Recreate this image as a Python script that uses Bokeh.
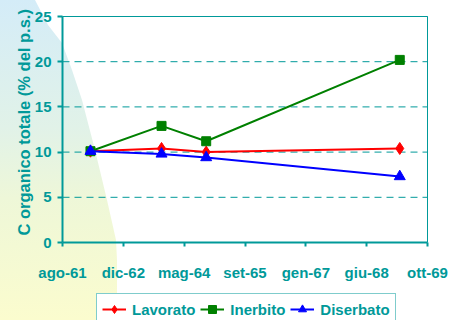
import math
import urllib.parse
import pandas as pd
from bokeh.plotting import figure
from bokeh.models import Range1d, FixedTicker, Legend, LegendItem, LinearAxis, Label
from bokeh.embed import file_html
from bokeh.resources import INLINE

# ---- data ----
dates = ["1962-03-25", "1963-10-30", "1964-10-31", "1969-03-10"]
lavorato = [10.1, 10.4, 10.0, 10.4]
inerbito = [10.1, 12.9, 11.2, 20.2]
diserbato = [10.1, 9.8, 9.4, 7.3]

tick_dates = ["1961-08-07", "1962-12-20", "1964-05-03", "1965-09-15",
              "1967-01-28", "1968-06-11", "1969-10-24"]
tick_labels = ["ago-61", "dic-62", "mag-64", "set-65", "gen-67", "giu-68", "ott-69"]
y_ticks = [0, 5, 10, 15, 20, 25]
y_title = "C organico totale (% del p.s.)"

EPOCH = pd.Timestamp("1899-12-30")
def serial(d):
    return (pd.Timestamp(d) - EPOCH).days

xs = [serial(d) for d in dates]
xt = [serial(d) for d in tick_dates]

TEAL = "#009999"
FONT = "Liberation Sans"
W, H = 450, 320
# plot-area placement on the canvas (pixels)
PL, PR, PT, PB = 62, 427, 16, 242
sx = (xt[-1] - xt[0]) / (PR - PL)          # days per pixel
sy = (y_ticks[-1] - y_ticks[0]) / (PB - PT)  # units per pixel
x_range = Range1d(xt[0] - PL * sx, xt[-1] + (W - PR) * sx)
y_range = Range1d(y_ticks[0] - (H - PB) * sy, y_ticks[-1] + PT * sy)

p = figure(width=W, height=H, output_backend="svg", toolbar_location=None,
           x_range=x_range, y_range=y_range, min_border=0)
p.min_border_left = p.min_border_right = p.min_border_top = p.min_border_bottom = 0
p.background_fill_color = None
p.border_fill_color = None
p.outline_line_color = None
p.grid.visible = False

# ---- decorative background shape (page background of the figure) ----
bnd = [(35, 0), (48, 25), (62, 43), (72, 70), (82, 100), (95, 150), (107, 200),
       (116, 240), (117, 260), (117, 320)]
pts = " ".join(f"{x},{y}" for x, y in [(0, 0)] + bnd + [(0, 320)])
svg = ("<svg xmlns='http://www.w3.org/2000/svg' width='450' height='320'>"
       "<defs><linearGradient id='g' x1='0' y1='0' x2='0' y2='1'>"
       "<stop offset='0' stop-color='#d4ecf8'/><stop offset='0.4' stop-color='#e1f2e8'/>"
       "<stop offset='0.62' stop-color='#eef7d8'/><stop offset='1' stop-color='#fbfcce'/>"
       "</linearGradient></defs>"
       f"<rect width='450' height='320' fill='white'/><polygon points='{pts}' fill='url(#g)'/></svg>")
p.styles = {"background-image": 'url("data:image/svg+xml;utf8,' + urllib.parse.quote(svg) + '")',
            "background-repeat": "no-repeat", "background-color": "white"}

# ---- dashed horizontal gridlines at the y ticks ----
gy = y_ticks[1:]
p.segment(x0=[xt[0]] * len(gy), x1=[xt[-1]] * len(gy), y0=gy, y1=gy,
          line_color=TEAL, line_width=1, line_dash="7 5")

# ---- series ----
r1l = p.line(xs, lavorato, line_color="red", line_width=2)
r1m = p.scatter(xs, lavorato, marker="diamond", size=12, color="red")
r2l = p.line(xs, inerbito, line_color="green", line_width=2)
r2m = p.scatter(xs, inerbito, marker="square", size=9, color="green")
r3l = p.line(xs, diserbato, line_color="blue", line_width=2)
r3m = p.scatter(xs, diserbato, marker="triangle", size=11, color="blue")

# ---- axes ----
p.xaxis.ticker = FixedTicker(ticks=xt)
p.xaxis.major_label_overrides = {t: l for t, l in zip(xt, tick_labels)}
p.xaxis.fixed_location = y_ticks[0]
p.xaxis.bounds = (xt[0], xt[-1])
p.yaxis.ticker = FixedTicker(ticks=y_ticks)
p.yaxis.fixed_location = xt[0]
p.yaxis.bounds = (y_ticks[0], y_ticks[-1])
for ax in (p.xaxis, p.yaxis):
    ax.axis_line_color = TEAL
    ax.axis_line_width = 2
    ax.major_tick_line_color = TEAL
    ax.major_tick_line_width = 2
    ax.major_tick_in = 0
    ax.minor_tick_line_color = None
    ax.major_label_text_color = TEAL
    ax.major_label_text_font = FONT
    ax.major_label_text_font_style = "bold"
    ax.major_label_text_font_size = "15px"
p.xaxis.major_tick_out = 4
p.xaxis.major_label_standoff = 17
p.yaxis.major_tick_out = 5
p.yaxis.major_label_standoff = 6

# plot-area border on the right and top (plain axis lines, no ticks)
right = LinearAxis(fixed_location=xt[-1], bounds=(y_ticks[0], y_ticks[-1]),
                   ticker=FixedTicker(ticks=[]), axis_line_color=TEAL, axis_line_width=1,
                   major_tick_line_color=None, minor_tick_line_color=None)
p.add_layout(right, "right")
top = LinearAxis(fixed_location=y_ticks[-1], bounds=(xt[0], xt[-1]),
                 ticker=FixedTicker(ticks=[]), axis_line_color=TEAL, axis_line_width=1,
                 major_tick_line_color=None, minor_tick_line_color=None)
p.add_layout(top, "above")

# y-axis title (rotated), starting near the bottom of the plot area
p.add_layout(Label(x=xt[0] - (PL - 23.5) * sx, y=y_ticks[0] + (PB - 235) * sy,
                   angle=math.pi / 2, text=y_title, text_font=FONT,
                   text_font_style="bold", text_font_size="16.5px", text_color=TEAL,
                   text_align="left", text_baseline="alphabetic"))

legend = Legend(items=[LegendItem(label="Lavorato", renderers=[r1l, r1m]),
                       LegendItem(label="Inerbito", renderers=[r2l, r2m]),
                       LegendItem(label="Diserbato", renderers=[r3l, r3m])],
                orientation="horizontal", location=(96, -5))
legend.border_line_color = TEAL
legend.border_line_width = 1
legend.background_fill_color = "white"
legend.background_fill_alpha = 1
legend.label_text_color = TEAL
legend.label_text_font = FONT
legend.label_text_font_style = "bold"
legend.label_text_font_size = "15px"
legend.glyph_width = 24
legend.glyph_height = 20
legend.label_height = 20
legend.label_standoff = 6
legend.spacing = 5
legend.padding = 5
legend.margin = 0
p.add_layout(legend)

open("out.html", "w").write(file_html(p, INLINE))
